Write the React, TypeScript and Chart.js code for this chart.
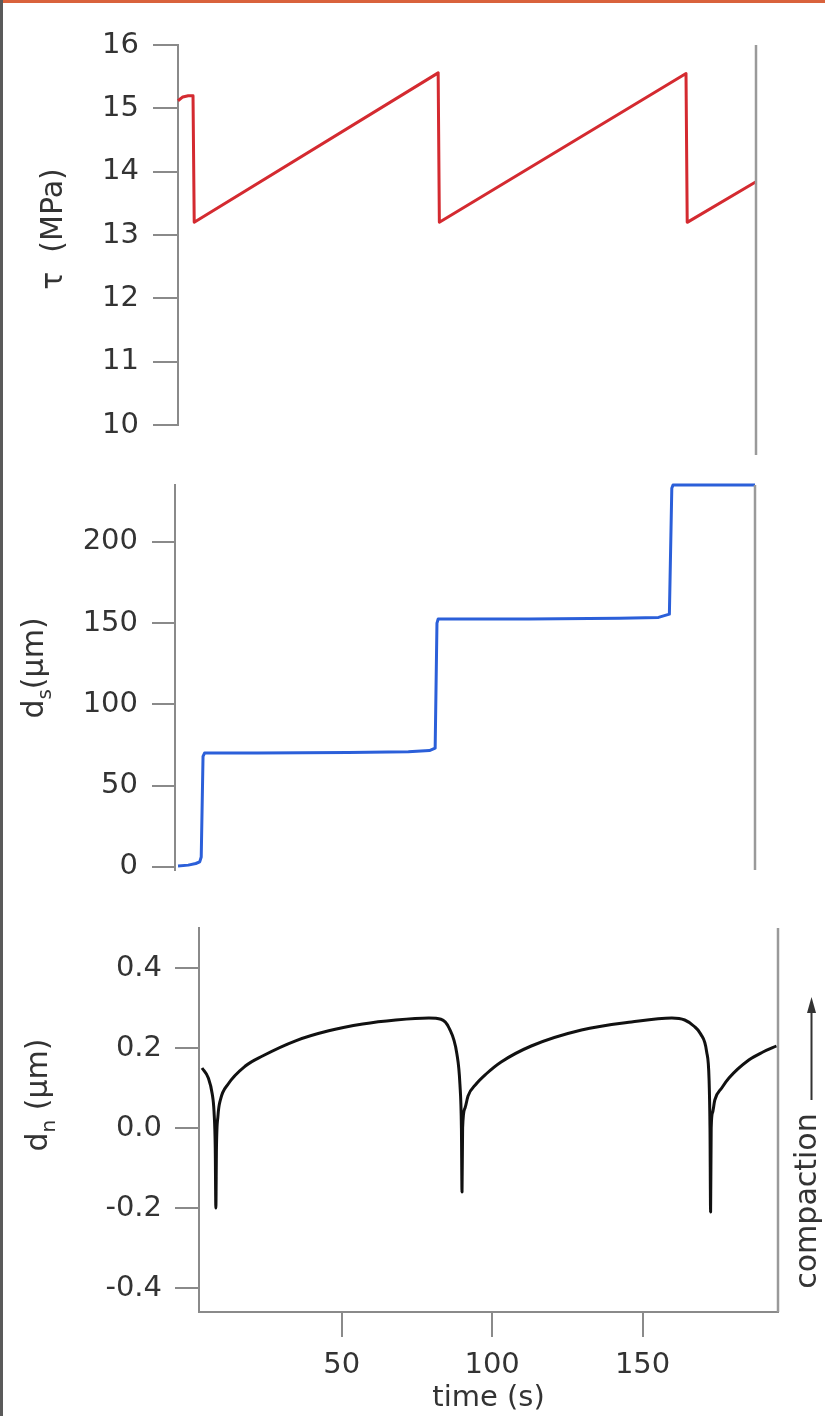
import React, { useEffect, useRef } from 'react';
import { Chart, registerables } from 'chart.js';

Chart.register(...registerables);

const FONT = "'DejaVu Sans', sans-serif";
const TEXT = '#333333';
const AXIS = '#8a8a8a';
const FRAME = '#9a9a9a';

// shared time range (s)
const TIME_MIN = 2.6;
const TIME_MAX = 195;
const TIME_TICKS = [50, 100, 150];

// shear stress tau (MPa)
const TAU_TIME = [2.6, 4.2, 6.0, 7.6, 8.0, 89.2, 89.6, 171.7, 172.1, 195];
const TAU = [15.12, 15.18, 15.2, 15.2, 13.2, 15.56, 13.2, 15.55, 13.2, 13.84];
const TAU_TICKS = [10, 11, 12, 13, 14, 15, 16];

// shear displacement d_s (um)
const DS_TIME = [3.6, 7, 9.5, 10.8, 11.3, 11.9, 12.4, 30, 60, 80, 87, 88.9, 89.5, 89.9, 120, 150, 163, 166.6, 167.4, 167.8, 195];
const DS = [0.5, 1, 2, 3, 6, 68, 70, 70, 70.3, 70.8, 71.5, 73, 150, 152.5, 152.5, 153, 153.5, 155.5, 233, 235, 235];
const DS_TICKS = [0, 50, 100, 150, 200];

// normal displacement d_n (um)
const DN_TIME = [3.6, 5.7, 7.0, 7.6, 8.0, 8.2, 8.4, 8.9, 9.7, 12.3, 18, 23.7, 34.7, 45.7, 57, 68, 79, 83, 85.7, 88.3, 89.3, 89.8, 90.0, 90.2, 91.0, 92.0, 94.7, 98, 103, 113, 129.7, 146.3, 159.7, 164, 167, 169.3, 171.3, 172.1, 172.4, 172.6, 172.8, 173.3, 174, 176.3, 178.7, 185.3, 190, 194.5];
const DN = [0.15, 0.125, 0.085, 0.04, -0.05, -0.2, -0.05, 0.03, 0.07, 0.11, 0.155, 0.18, 0.218, 0.243, 0.26, 0.27, 0.275, 0.272, 0.25, 0.185, 0.11, 0.0, -0.16, 0.0, 0.05, 0.08, 0.11, 0.135, 0.165, 0.205, 0.245, 0.265, 0.275, 0.27, 0.255, 0.235, 0.19, 0.12, 0.0, -0.21, 0.0, 0.04, 0.07, 0.1, 0.125, 0.17, 0.19, 0.205];
const DN_TICKS = [-0.4, -0.2, 0, 0.2, 0.4];

type Part = { text: string; size: number; shift: number };

function drawRotated(ctx: CanvasRenderingContext2D, parts: Part[], x: number, y: number) {
  ctx.save();
  ctx.translate(x, y);
  ctx.rotate(-Math.PI / 2);
  ctx.fillStyle = TEXT;
  ctx.textBaseline = 'alphabetic';
  ctx.textAlign = 'left';
  const widths = parts.map((p) => {
    ctx.font = `${p.size}px ${FONT}`;
    return ctx.measureText(p.text).width;
  });
  const total = widths.reduce((a, b) => a + b, 0);
  let cx = -total / 2;
  parts.forEach((p, i) => {
    ctx.font = `${p.size}px ${FONT}`;
    ctx.fillText(p.text, cx, p.shift);
    cx += widths[i];
  });
  ctx.restore();
}

function decor(title: Part[], tx: number, ty: number, extendBottom: number, extra?: (ctx: CanvasRenderingContext2D) => void) {
  return {
    id: 'decor',
    afterDraw(chart: any) {
      const { ctx, chartArea } = chart;
      ctx.save();
      ctx.strokeStyle = FRAME;
      ctx.lineWidth = 2.5;
      ctx.beginPath();
      ctx.moveTo(chartArea.right, chartArea.top);
      ctx.lineTo(chartArea.right, chartArea.bottom + extendBottom);
      ctx.stroke();
      ctx.restore();
      drawRotated(ctx, title, tx, ty);
      if (extra) extra(ctx);
    },
  };
}

function yScale(min: number, max: number, ticks: number[], width: number, tickLength: number, padding: number, fmt?: (v: number) => string) {
  return {
    type: 'linear' as const,
    position: 'left' as const,
    min,
    max,
    afterBuildTicks: (s: any) => {
      s.ticks = ticks.map((v) => ({ value: v }));
    },
    afterFit: (s: any) => {
      s.width = width;
      s.paddingTop = 0;
      s.paddingBottom = 0;
    },
    grid: { display: true, drawOnChartArea: false, drawTicks: true, tickLength, color: AXIS, lineWidth: 2 },
    border: { display: true, color: AXIS, width: 2 },
    ticks: {
      color: TEXT,
      font: { family: FONT, size: 29 },
      padding,
      autoSkip: false,
      callback: (v: any) => (fmt ? fmt(Number(v)) : String(v)),
    },
  };
}

function hiddenX() {
  return { type: 'linear' as const, min: TIME_MIN, max: TIME_MAX, display: false };
}

function series(times: number[], vals: number[]) {
  return times.map((t, i) => ({ x: t, y: vals[i] }));
}

const baseOptions = {
  animation: false as const,
  responsive: false,
  events: [] as any[],
  plugins: { legend: { display: false }, tooltip: { enabled: false } },
};

export default function App() {
  const r1 = useRef<HTMLCanvasElement>(null);
  const r2 = useRef<HTMLCanvasElement>(null);
  const r3 = useRef<HTMLCanvasElement>(null);

  useEffect(() => {
    const c1 = new Chart(r1.current!, {
      type: 'line',
      data: {
        datasets: [
          {
            data: series(TAU_TIME, TAU),
            borderColor: '#d42a30',
            borderWidth: 3,
            pointRadius: 0,
            tension: 0,
            borderJoinStyle: 'round',
            fill: false,
            clip: false as any,
          },
        ],
      },
      options: {
        ...baseOptions,
        layout: { padding: { top: 45, bottom: 45, left: 0, right: 69 } },
        scales: {
          x: hiddenX(),
          y: yScale(10, 16, TAU_TICKS, 178, 25, 14),
        },
      } as any,
      plugins: [decor([{ text: 'τ  (MPa)', size: 30, shift: 0 }], 62, 229, 30)],
    });

    const c2 = new Chart(r2.current!, {
      type: 'line',
      data: {
        datasets: [
          {
            data: series(DS_TIME, DS),
            borderColor: '#2b5fd9',
            borderWidth: 3,
            pointRadius: 0,
            tension: 0,
            borderJoinStyle: 'round',
            fill: false,
            clip: false as any,
          },
        ],
      },
      options: {
        ...baseOptions,
        layout: { padding: { top: 15, bottom: 40, left: 0, right: 70 } },
        scales: {
          x: hiddenX(),
          y: yScale(-2, 235, DS_TICKS, 175, 23, 14),
        },
      } as any,
      plugins: [
        decor(
          [
            { text: 'd', size: 30, shift: 0 },
            { text: 's', size: 20, shift: 8 },
            { text: '(µm)', size: 30, shift: 0 },
          ],
          43,
          198,
          0
        ),
      ],
    });

    const c3 = new Chart(r3.current!, {
      type: 'line',
      data: {
        datasets: [
          {
            data: series(DN_TIME, DN),
            borderColor: '#111111',
            borderWidth: 3,
            pointRadius: 0,
            cubicInterpolationMode: 'monotone',
            borderJoinStyle: 'round',
            fill: false,
            clip: false as any,
          },
        ],
      },
      options: {
        ...baseOptions,
        layout: { padding: { top: 18, bottom: 0, left: 0, right: 47 } },
        scales: {
          x: {
            type: 'linear',
            position: 'bottom',
            min: TIME_MIN,
            max: TIME_MAX,
            afterBuildTicks: (s: any) => {
              s.ticks = TIME_TICKS.map((v) => ({ value: v }));
            },
            afterFit: (s: any) => {
              s.height = 104;
              s.paddingLeft = 0;
              s.paddingRight = 0;
            },
            grid: { display: true, drawOnChartArea: false, drawTicks: true, tickLength: 25, color: AXIS, lineWidth: 2 },
            border: { display: true, color: AXIS, width: 2 },
            ticks: { color: TEXT, font: { family: FONT, size: 29 }, padding: 11, maxRotation: 0, autoSkip: false },
            title: { display: true, text: 'time (s)', color: TEXT, font: { family: FONT, size: 29 }, padding: 0 },
          },
          y: yScale(-0.46, 0.5, DN_TICKS, 199, 24, 13, (v) => v.toFixed(1)),
        },
      } as any,
      plugins: [
        decor(
          [
            { text: 'd', size: 30, shift: 0 },
            { text: 'n', size: 20, shift: 8 },
            { text: ' (µm)', size: 30, shift: 0 },
          ],
          47,
          185,
          0,
          (ctx) => {
            drawRotated(ctx, [{ text: 'compaction', size: 30, shift: 0 }], 816, 291);
            ctx.save();
            ctx.strokeStyle = TEXT;
            ctx.fillStyle = TEXT;
            ctx.lineWidth = 2;
            ctx.beginPath();
            ctx.moveTo(811.5, 190);
            ctx.lineTo(811.5, 100);
            ctx.stroke();
            ctx.beginPath();
            ctx.moveTo(811.5, 87);
            ctx.lineTo(807, 103);
            ctx.lineTo(816, 103);
            ctx.closePath();
            ctx.fill();
            ctx.restore();
          }
        ),
      ],
    });

    return () => {
      c1.destroy();
      c2.destroy();
      c3.destroy();
    };
  }, []);

  return (
    <div style={{ position: 'absolute', left: 0, top: 0, width: 825, height: 1416, background: '#ffffff', overflow: 'hidden' }}>
      <canvas ref={r1} width={825} height={470} style={{ position: 'absolute', left: 0, top: 0, display: 'block' }} />
      <canvas ref={r2} width={825} height={440} style={{ position: 'absolute', left: 0, top: 470, display: 'block' }} />
      <canvas ref={r3} width={825} height={506} style={{ position: 'absolute', left: 0, top: 910, display: 'block' }} />
      <div style={{ position: 'absolute', left: 0, top: 0, width: 825, height: 3, background: '#d9623c' }} />
      <div style={{ position: 'absolute', left: 0, top: 0, width: 3, height: 1416, background: '#5a5a5a' }} />
    </div>
  );
}
